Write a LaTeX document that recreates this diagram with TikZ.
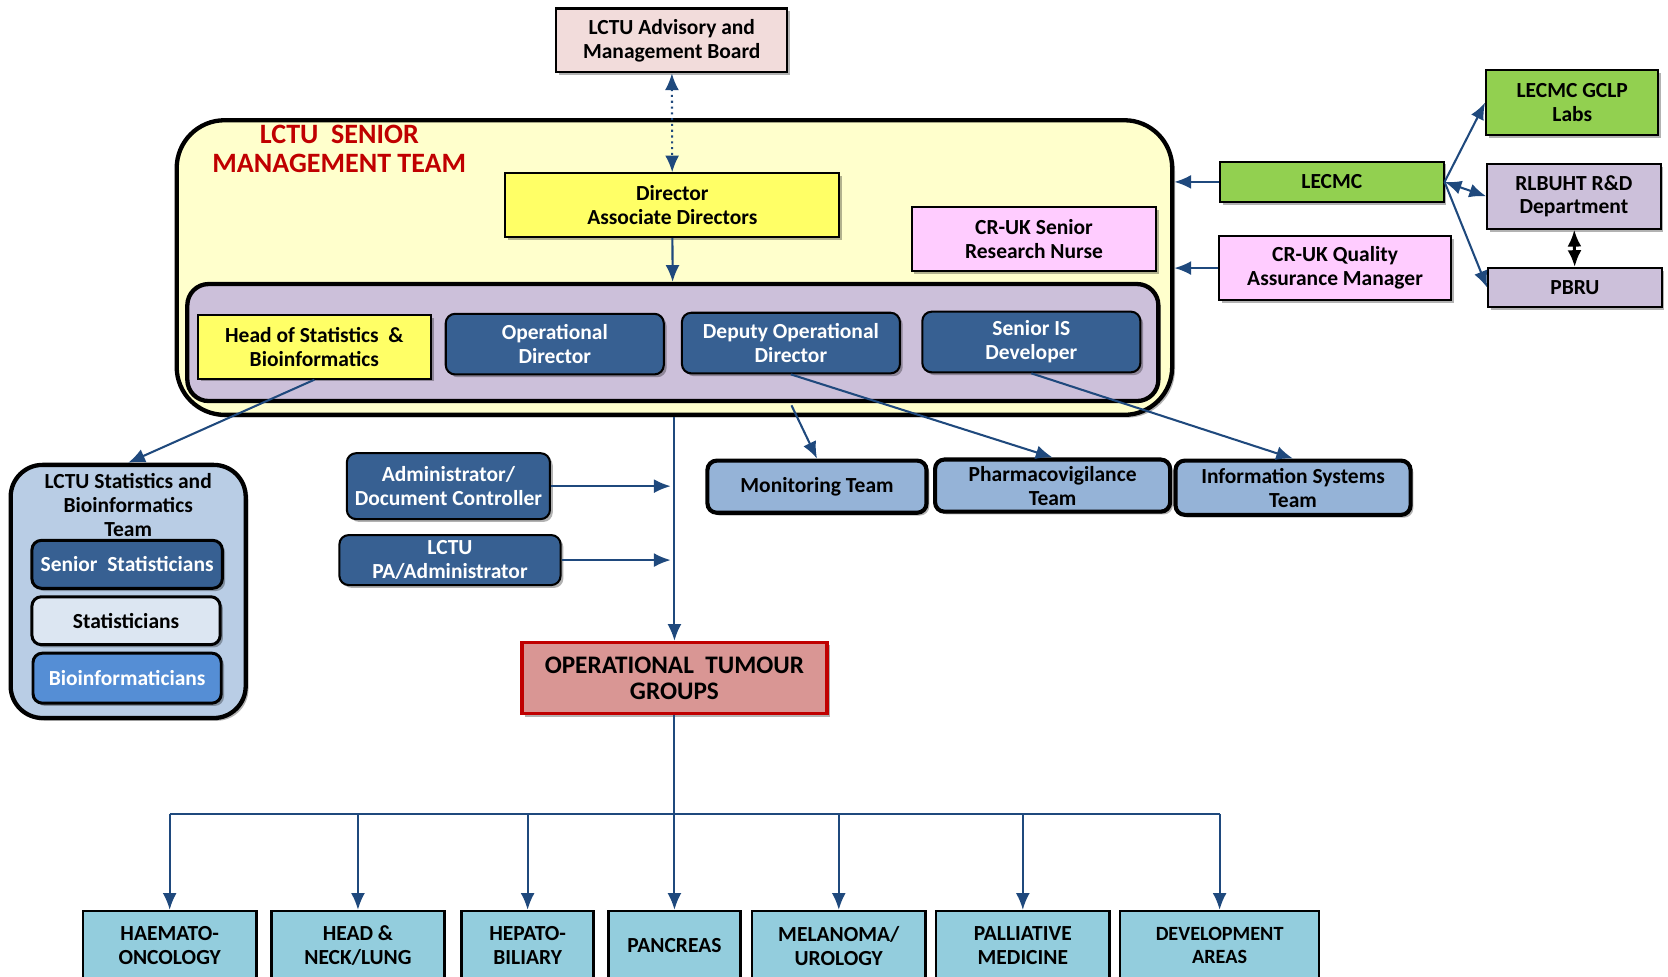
\documentclass[tikz,border=0pt]{standalone}
\usepackage{fontspec}
\setmainfont{Carlito}
\usetikzlibrary{arrows,arrows.meta,positioning,shadows,calc}

\definecolor{linkblue}{HTML}{1F497D}
\definecolor{boxblue}{HTML}{376092}
\definecolor{paleyellow}{HTML}{FFFFCC}
\definecolor{brightyellow}{HTML}{FFFF66}
\definecolor{lavender}{HTML}{CCC0DA}
\definecolor{palepink}{HTML}{F2DCDB}
\definecolor{lilac}{HTML}{FFCCFF}
\definecolor{leafgreen}{HTML}{92D050}
\definecolor{teamblue}{HTML}{95B3D7}
\definecolor{stateamblue}{HTML}{B9CDE5}
\definecolor{iceblue}{HTML}{DCE6F2}
\definecolor{midblue}{HTML}{558ED5}
\definecolor{tumourred}{HTML}{D99694}
\definecolor{darkred}{HTML}{C00000}
\definecolor{groupteal}{HTML}{93CDDD}

\begin{document}
\begin{tikzpicture}[
  x=0.02cm, y=-0.02cm,
  > = {Latex[length=9pt,width=7.5pt]},
  every node/.style = {font=\fontsize{11.5}{12.8}\selectfont\bfseries, align=center, inner sep=0pt},
  shade/.style = {drop shadow={shadow xshift=1.5pt, shadow yshift=-1.5pt, fill=black, opacity=.3}},
  box/.style = {draw, line width=1.1pt, shade},
  darkbox/.style = {box, fill=boxblue, text=white, rounded corners=5pt},
  teambox/.style = {draw, line width=2.2pt, fill=teamblue, rounded corners=5pt, shade},
  groupbox/.style = {draw, line width=1.4pt, fill=groupteal, minimum height=1.3cm},
  link/.style = {draw=linkblue, line width=1.1pt}
  ]
	\useasboundingbox (0,0) rectangle (1568,918);

	% top and senior management team
	\node[box, fill=palepink, minimum width=4.34cm, minimum height=1.2cm] (board) at (631.5,38) {LCTU Advisory and\\Management Board};
	\node[draw, line width=2.3pt, fill=paleyellow, rounded corners=0.9cm, minimum width=18.72cm, minimum height=5.54cm, shade] (smt) at (634,251.5) {};
	\node[text=darkred, font=\fontsize{15}{16}\selectfont\bfseries] (smttitle) at (319,140) {LCTU\ \ SENIOR\\MANAGEMENT TEAM};
	\node[box, fill=brightyellow, minimum width=6.28cm, minimum height=1.2cm] (dir) at (632,193) {Director\\Associate Directors};
	\node[box, fill=lilac, minimum width=4.6cm, minimum height=1.2cm] (nurse) at (972,225) {CR-UK Senior\\Research Nurse};
	\node[draw, line width=2.3pt, fill=lavender, rounded corners=0.4cm, minimum width=18.26cm, minimum height=2.2cm] (ops) at (632.5,322) {};
	\node[box, fill=brightyellow, minimum width=4.38cm, minimum height=1.2cm] (head) at (295.5,326) {Head of Statistics\ \ \&\\Bioinformatics};
	\node[darkbox, minimum width=4.1cm, minimum height=1.14cm] (opdir) at (521.5,323.5) {Operational\\Director};
	\node[darkbox, minimum width=4.1cm, minimum height=1.14cm] (dep) at (743.5,322.5) {Deputy Operational\\Director};
	\node[darkbox, minimum width=4.1cm, minimum height=1.14cm] (isdev) at (969.5,321.5) {Senior IS\\Developer};

	% partners on the right
	\node[box, fill=leafgreen, minimum width=4.2cm, minimum height=0.76cm] (lecmc) at (1252,171) {LECMC};
	\node[box, fill=lilac, minimum width=4.36cm, minimum height=1.2cm] (qam) at (1255,252) {CR-UK Quality\\Assurance Manager};
	\node[box, fill=leafgreen, minimum width=3.24cm, minimum height=1.22cm] (gclp) at (1478,96.5) {LECMC GCLP\\Labs};
	\node[box, fill=lavender, minimum width=3.26cm, minimum height=1.22cm] (rlbuht) at (1479.5,184.5) {RLBUHT R\&D\\Department};
	\node[box, fill=lavender, minimum width=3.26cm, minimum height=0.74cm] (pbru) at (1480.5,270.5) {PBRU};

	% statistics team
	\node[draw, line width=2.3pt, fill=stateamblue, rounded corners=0.6cm, minimum width=4.42cm, minimum height=4.76cm, shade] (statteam) at (120.5,556) {};
	\node (statlabel) at (120.5,475) {LCTU Statistics and\\Bioinformatics\\Team};
	\node[darkbox, line width=1.6pt, minimum width=3.58cm, minimum height=0.9cm] (senstat) at (119.5,530.5) {Senior\ \ Statisticians};
	\node[box, line width=1.6pt, fill=iceblue, rounded corners=5pt, minimum width=3.54cm, minimum height=0.9cm] (stat) at (118.5,583.5) {Statisticians};
	\node[box, line width=1.6pt, fill=midblue, text=white, rounded corners=5pt, minimum width=3.54cm, minimum height=0.94cm] (bioinf) at (119.5,637.5) {Bioinformaticians};

	% admin and teams
	\node[darkbox, minimum width=3.82cm, minimum height=1.24cm] (admin) at (421.5,457) {Administrator/\\Document Controller};
	\node[darkbox, minimum width=4.16cm, minimum height=0.94cm] (pa) at (423,526.5) {LCTU\\PA/Administrator};
	\node[teambox, minimum width=4.12cm, minimum height=0.98cm] (mon) at (768,457.5) {Monitoring Team};
	\node[teambox, minimum width=4.42cm, minimum height=0.98cm] (pv) at (989.5,456.5) {Pharmacovigilance\\Team};
	\node[teambox, minimum width=4.42cm, minimum height=1.02cm] (ist) at (1215.5,458.5) {Information Systems\\Team};
	\node[box, draw=darkred, line width=1.8pt, fill=tumourred, minimum width=5.74cm, minimum height=1.34cm, font=\fontsize{13.5}{14}\selectfont\bfseries] (otg) at (634,637.5) {OPERATIONAL\ \ TUMOUR\\GROUPS};

	% tumour groups
	\node[groupbox, minimum width=3.26cm] (haem) at (159.5,889) {HAEMATO-\\ONCOLOGY};
	\node[groupbox, minimum width=3.26cm] (hnl) at (336.5,889) {HEAD \&\\NECK/LUNG};
	\node[groupbox, minimum width=2.48cm] (hep) at (496,889) {HEPATO-\\BILIARY};
	\node[groupbox, minimum width=2.48cm] (panc) at (634,889) {PANCREAS};
	\node[groupbox, minimum width=3.26cm] (mel) at (788.5,889) {MELANOMA/\\UROLOGY};
	\node[groupbox, minimum width=3.26cm] (pall) at (961.5,889) {PALLIATIVE\\MEDICINE};
	\node[groupbox, minimum width=3.74cm, font=\fontsize{10.8}{12.5}\selectfont\bfseries] (dev) at (1146.5,889) {DEVELOPMENT\\AREAS};

	\coordinate (monsrc) at (744,381);
	\coordinate (bus) at (634,765);

	% connectors
	\draw[link, <->, dotted] (board) -- (dir);
	\draw[link, ->] (dir) -- (ops);
	\draw[link, ->] (head.south) -- (statteam.north);
	\draw[link, ->] (monsrc) -- (mon.north);
	\draw[link, ->] (dep.south) -- (pv.north);
	\draw[link, ->] (isdev.south) -- (ist.north);
	\draw[link, ->] (lecmc.west) -- (lecmc.west -| smt.east);
	\draw[link, ->] (qam.west) -- (qam.west -| smt.east);
	\draw[link, ->] (lecmc.east) -- (gclp.west);
	\draw[link, <->] (lecmc.east) -- (rlbuht.west);
	\draw[link, ->] (lecmc.east) -- (pbru.west);
	\draw[<->, line width=1.6pt] (rlbuht) -- (pbru);
	\draw[link, ->] (smt.south) -- (otg.north);
	\draw[link, ->, shorten >=2pt] (admin.east) -- (admin.east -| otg.north);
	\draw[link, ->, shorten >=2pt] (pa.east) -- (pa.east -| otg.north);
	\draw[link] (otg.south) -- (bus);
	\draw[link] (haem.north |- bus) -- (dev.north |- bus);
	\foreach \grp in {haem,hnl,hep,panc,mel,pall,dev}
		\draw[link, ->] (\grp.north |- bus) -- (\grp.north);

\end{tikzpicture}
\end{document}
